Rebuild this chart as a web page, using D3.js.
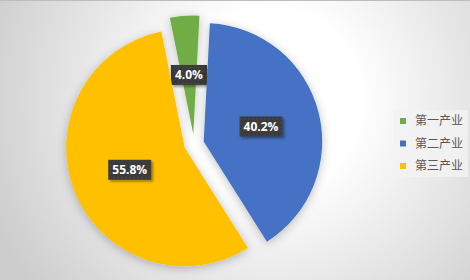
<!DOCTYPE html>
<html><head><meta charset="utf-8">
<script src="https://cdn.jsdelivr.net/npm/d3@7"></script>
<style>html,body{margin:0;padding:0;background:#fff;}svg{display:block;}</style>
</head><body>
<svg id="chart" width="470" height="280"></svg>
<script>
const categories = ["第一产业", "第二产业", "第三产业"];
const values = [4.0, 40.2, 55.8];
const labels = ["4.0%", "40.2%", "55.8%"];
const colors = ["#70ad47", "#4472c4", "#ffc000"];

const W = 470, H = 280;
const svg = d3.select("#chart");
const defs = svg.append("defs");

const bg = defs.append("radialGradient").attr("id", "bg")
  .attr("gradientUnits", "userSpaceOnUse")
  .attr("cx", 270).attr("cy", 100).attr("r", 300);
bg.append("stop").attr("offset", "0").attr("stop-color", "#ffffff");
bg.append("stop").attr("offset", "0.3").attr("stop-color", "#ffffff");
bg.append("stop").attr("offset", "1").attr("stop-color", "#cdcdcd");

const sh = defs.append("filter").attr("id", "sh").attr("x", "-30%").attr("y", "-30%").attr("width", "160%").attr("height", "160%");
sh.append("feDropShadow").attr("dx", 0).attr("dy", 2).attr("stdDeviation", 5).attr("flood-color", "#000").attr("flood-opacity", 0.25);

const lsh = defs.append("filter").attr("id", "lsh").attr("x", "-30%").attr("y", "-30%").attr("width", "160%").attr("height", "160%");
lsh.append("feDropShadow").attr("dx", 2).attr("dy", 2).attr("stdDeviation", 1.2).attr("flood-color", "#000").attr("flood-opacity", 0.35);

const pat = defs.append("pattern").attr("id", "dots").attr("patternUnits", "userSpaceOnUse").attr("width", 4).attr("height", 4);
pat.append("rect").attr("width", 4).attr("height", 4).attr("fill", "#3b3b3b");
pat.append("rect").attr("x", 1).attr("y", 1).attr("width", 1).attr("height", 1).attr("fill", "#555");

svg.append("rect").attr("width", W).attr("height", H).attr("fill", "url(#bg)");
svg.append("line").attr("x1", 0).attr("x2", W).attr("y1", 0.5).attr("y2", 0.5).attr("stroke", "#bdbdbd");

const cx = 194, cy = 144, R = 118.5, explode = 10;
const startA = -11.4 * Math.PI / 180;
const pie = d3.pie().sort(null).startAngle(startA).endAngle(startA + 2 * Math.PI);
const arcs = pie(values);
const arc = d3.arc().innerRadius(0).outerRadius(R);

const g = svg.append("g").attr("transform", `translate(${cx},${cy})`);
const slices = g.selectAll("g.slice").data(arcs).enter().append("g")
  .attr("transform", d => {
    const m = (d.startAngle + d.endAngle) / 2;
    return `translate(${explode * Math.sin(m)},${-explode * Math.cos(m)})`;
  });
slices.append("path").attr("d", arc).attr("fill", (d, i) => colors[i]).attr("filter", "url(#sh)");

slices.each(function(d, i) {
  const [x, y] = arc.centroid(d);
  const sel = d3.select(this);
  const t = sel.append("text").attr("x", x).attr("y", y).attr("dy", "0.35em")
    .attr("text-anchor", "middle").attr("font-family", "Open Sans, Liberation Sans, sans-serif")
    .attr("font-weight", "bold").attr("font-size", 12).attr("fill", "#fff").text(labels[i]);
  const bb = t.node().getBBox();
  const padX = 4, bw = bb.width + padX * 2, bh = 20;
  sel.insert("rect", "text").attr("x", x - bw / 2).attr("y", y - bh / 2).attr("width", bw).attr("height", bh)
    .attr("fill", "url(#dots)").attr("filter", "url(#lsh)");
});

// Legend
const lg = svg.append("g").attr("transform", "translate(393,110)");
lg.append("rect").attr("width", 75).attr("height", 67).attr("fill", "#f2f2f2").attr("opacity", 0.85);
const items = lg.selectAll("g.item").data(categories).enter().append("g")
  .attr("transform", (d, i) => `translate(0,${11 + i * 22.5})`);
items.append("rect").attr("x", 7).attr("y", -3).attr("width", 6).attr("height", 6).attr("fill", (d, i) => colors[i]);
items.append("text").attr("x", 22).attr("y", 0).attr("dy", "0.35em")
  .attr("font-family", "Noto Sans CJK SC, sans-serif").attr("font-size", 12).attr("fill", "#595959").text(d => d);
</script>
</body></html>
